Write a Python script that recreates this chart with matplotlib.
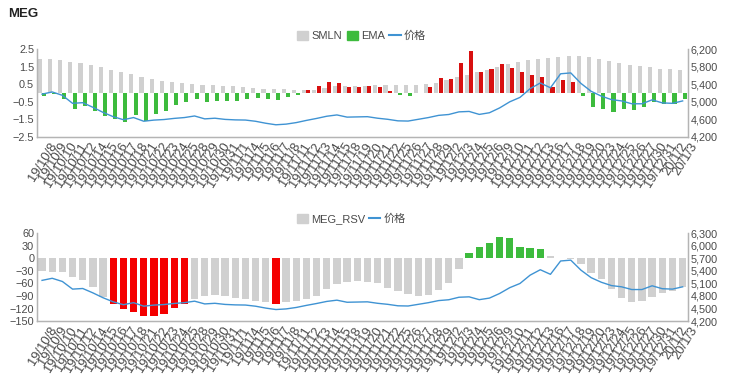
import matplotlib
matplotlib.use("Agg")
import matplotlib.pyplot as plt
import matplotlib.transforms as mtransforms
from matplotlib.patches import Patch
from matplotlib.lines import Line2D
from matplotlib.ticker import FuncFormatter
import numpy as np

plt.rcParams['font.family'] = ['Liberation Sans', 'Noto Sans CJK SC', 'DejaVu Sans']

# trading days
dates = ["19/10/8", "19/10/9", "19/10/10", "19/10/11", "19/10/12", "19/10/14", "19/10/15",
         "19/10/16", "19/10/17", "19/10/18", "19/10/21", "19/10/22", "19/10/23", "19/10/24",
         "19/10/25", "19/10/28", "19/10/29", "19/10/30", "19/10/31", "19/11/1", "19/11/4",
         "19/11/5", "19/11/6", "19/11/7", "19/11/8", "19/11/11", "19/11/12", "19/11/13",
         "19/11/14", "19/11/15", "19/11/18", "19/11/19", "19/11/20", "19/11/21", "19/11/22",
         "19/11/25", "19/11/26", "19/11/27", "19/11/28", "19/11/29", "19/12/2", "19/12/3",
         "19/12/4", "19/12/5", "19/12/6", "19/12/9", "19/12/10", "19/12/11", "19/12/12",
         "19/12/13", "19/12/16", "19/12/17", "19/12/18", "19/12/19", "19/12/20", "19/12/23",
         "19/12/24", "19/12/25", "19/12/26", "19/12/27", "19/12/30", "19/12/31", "20/1/2",
         "20/1/3"]

# MEG price (right axis of both panels)
price = [5175, 5225, 5148, 4965, 4980, 4875, 4758, 4660, 4591, 4640,
         4556, 4582, 4595, 4621, 4640, 4676, 4610, 4625, 4598, 4587,
         4583, 4555, 4510, 4475, 4490, 4525, 4575, 4620, 4670, 4700,
         4650, 4655, 4660, 4625, 4600, 4565, 4560, 4600, 4640, 4690,
         4710, 4770, 4780, 4712, 4750, 4860, 5000, 5100, 5300, 5430,
         5320, 5640, 5660, 5420, 5240, 5130, 5050, 5020, 4955, 4955,
         5045, 4975, 4965, 5020]

smln = [1.95, 1.95, 1.9, 1.8, 1.74, 1.63, 1.48, 1.34, 1.19, 1.06,
        0.94, 0.78, 0.68, 0.63, 0.57, 0.52, 0.48, 0.44, 0.43, 0.38,
        0.34, 0.28, 0.25, 0.25, 0.22, 0.19, 0.17, 0.2, 0.3, 0.38,
        0.42, 0.43, 0.43, 0.44, 0.45, 0.45, 0.46, 0.47, 0.5, 0.6,
        0.75, 0.89, 1.02, 1.2, 1.34, 1.5, 1.65, 1.78, 1.88, 1.97,
        2.0, 2.08, 2.12, 2.1, 2.03, 1.93, 1.82, 1.72, 1.63, 1.55,
        1.46, 1.4, 1.36, 1.31]

ema = [-0.16, -0.03, -0.33, -0.89, -0.76, -1.04, -1.3, -1.46, -1.63, -1.25,
       -1.59, -1.17, -1.0, -0.7, -0.49, -0.34, -0.52, -0.43, -0.43, -0.47,
       -0.35, -0.26, -0.33, -0.4, -0.21, -0.12, 0.15, 0.43, 0.65, 0.6,
       0.36, 0.36, 0.38, 0.34, 0.1, -0.13, -0.19, 0.02, 0.35, 0.84,
       0.8, 1.73, 2.4, 1.22, 1.35, 1.65, 1.42, 1.21, 1.05, 0.89,
       0.34, 0.74, 0.64, -0.17, -0.78, -0.92, -1.07, -0.92, -0.97, -0.8,
       -0.53, -0.64, -0.64, -0.36]

rsv = [-30, -32, -33, -44, -52, -68, -92, -108, -121, -129,
       -137, -137, -132, -118, -110, -97, -91, -87, -89, -94,
       -97, -102, -104, -108, -104, -102, -97, -89, -74, -62,
       -56, -54, -56, -60, -70, -77, -85, -90, -88, -75,
       -58, -26, 12, 27, 36, 51, 48, 27, 26, 22,
       6, 0, -1, -14, -36, -50, -73, -95, -104, -102,
       -92, -84, -77, -69]

GRAY = "#d0d0d0"
GREEN = "#3dbb3d"
RED_TOP = "#d81010"
RED_BOT = "#f40000"
BLUE = "#3f93d3"
TXT = "#4a4a4a"
SPINE = "#b4b4b4"

x = np.arange(len(dates))
ema_colors = [RED_TOP if v > 0 else GREEN for v in ema]
rsv_colors = [RED_BOT if v <= -106 else (GREEN if v >= 10 else GRAY) for v in rsv]

fig = plt.figure(figsize=(7.32, 3.79), dpi=100)
fig.patch.set_facecolor("white")

ax1 = fig.add_axes([0.0505, 0.639, 0.889, 0.231])
ax2 = fig.add_axes([0.0505, 0.153, 0.889, 0.231])


def style(ax, twin):
    for a in (ax, twin):
        a.spines['top'].set_visible(False)
        for s in ('left', 'right', 'bottom'):
            a.spines[s].set_color(SPINE)
            a.spines[s].set_linewidth(0.9)
        a.tick_params(length=0, labelsize=7.8, colors=TXT, pad=2)
    ax.set_xlim(-0.5, len(dates) - 0.5)
    ax.set_xticks(x)
    offset = mtransforms.ScaledTranslation(7 / 100, -1 / 100, fig.dpi_scale_trans)
    ax.set_xticklabels(dates, rotation=58, ha='right', va='top',
                       rotation_mode='anchor', fontsize=9.3, color=TXT)
    for lab in ax.get_xticklabels():
        lab.set_transform(lab.get_transform() + offset)


# --- top panel: SMLN / EMA / price
ax1.bar(x - 0.22, smln, 0.4, color=GRAY, zorder=2)
ax1.bar(x + 0.2, ema, 0.4, color=ema_colors, zorder=3)
ax1.set_ylim(-2.5, 2.5)
ax1.set_yticks([-2.5, -1.5, -0.5, 0.5, 1.5, 2.5])
tw1 = ax1.twinx()
tw1.plot(x, price, color=BLUE, lw=1.0)
tw1.set_ylim(4200, 6200)
tw1.set_yticks([4200, 4600, 5000, 5400, 5800, 6200])
tw1.yaxis.set_major_formatter(FuncFormatter(lambda v, p: f"{int(v):,}"))
style(ax1, tw1)

# --- bottom panel: MEG_RSV / price
ax2.bar(x, rsv, 0.72, color=rsv_colors, zorder=2)
ax2.set_ylim(-150, 60)
ax2.set_yticks(np.arange(-150, 61, 30))
tw2 = ax2.twinx()
tw2.plot(x, price, color=BLUE, lw=1.0)
tw2.set_ylim(4200, 6300)
tw2.set_yticks(np.arange(4200, 6301, 300))
tw2.yaxis.set_major_formatter(FuncFormatter(lambda v, p: f"{int(v):,}"))
style(ax2, tw2)

fig.text(0.011, 0.962, "MEG", fontsize=9.5, fontweight='bold', color="#222222", va='center')

leg1 = fig.legend(handles=[Patch(color=GRAY, label="SMLN"),
                           Patch(color=GREEN, label="EMA"),
                           Line2D([], [], color=BLUE, lw=1.5, label="价格")],
                  loc='center', bbox_to_anchor=(0.494, 0.905), ncol=3, frameon=False,
                  fontsize=8, handlelength=1.0, handleheight=0.9, handletextpad=0.3,
                  columnspacing=0.4, labelcolor=TXT)
leg2 = fig.legend(handles=[Patch(color=GRAY, label="MEG_RSV"),
                           Line2D([], [], color=BLUE, lw=1.5, label="价格")],
                  loc='center', bbox_to_anchor=(0.48, 0.422), ncol=2, frameon=False,
                  fontsize=8, handlelength=1.0, handleheight=0.9, handletextpad=0.3,
                  columnspacing=0.3, labelcolor=TXT)

fig.savefig("out.png", dpi=100, facecolor="white")
